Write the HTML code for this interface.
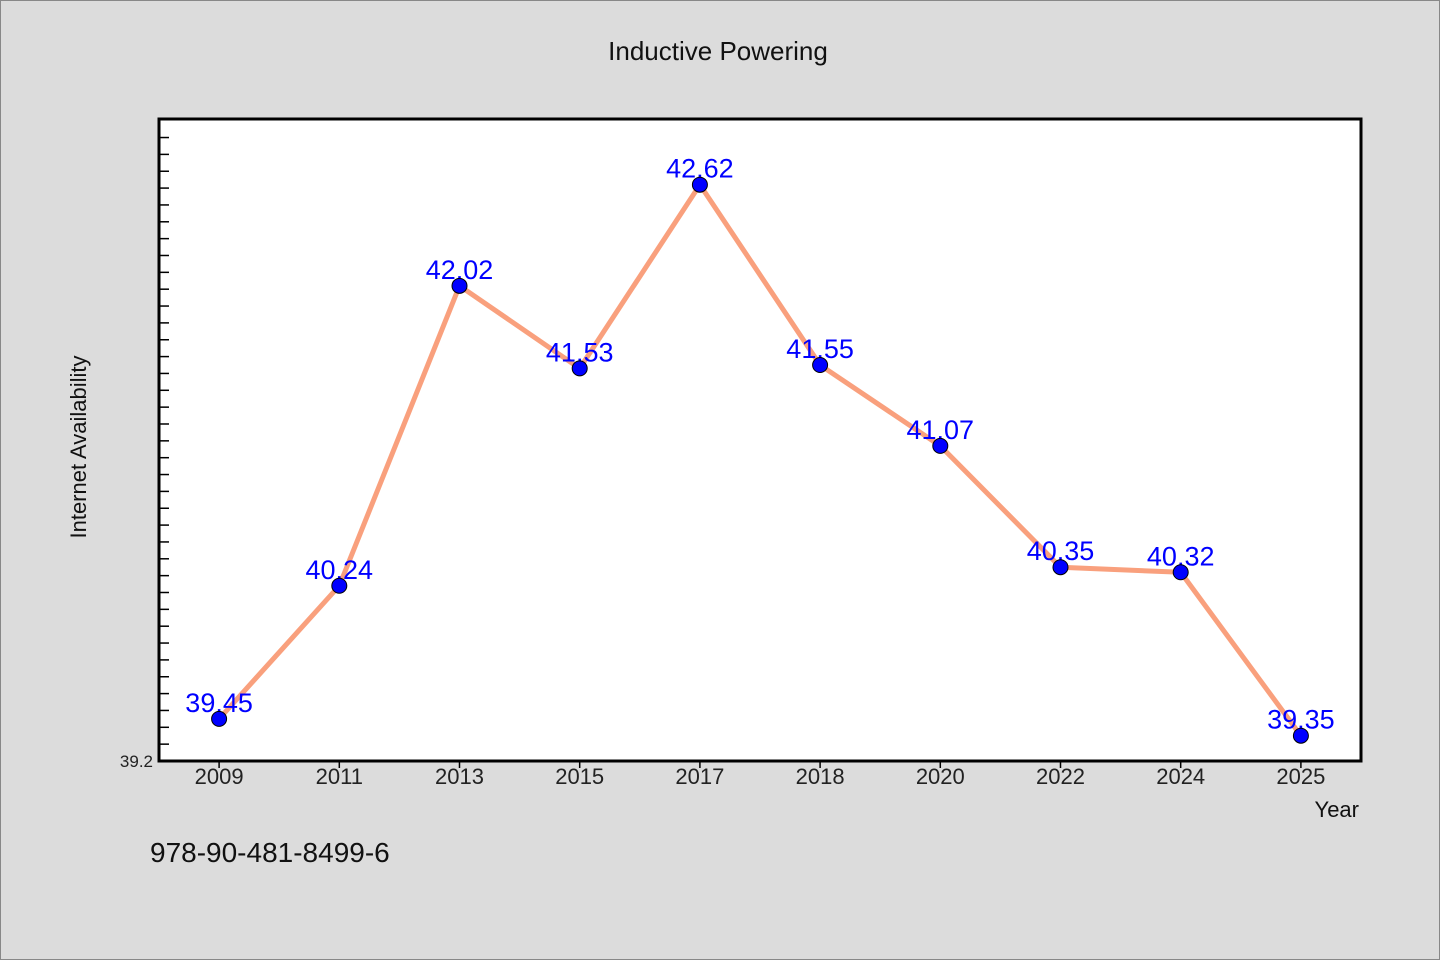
<!DOCTYPE html>
<html><head><meta charset="utf-8"><style>
body{margin:0;background:#dcdcdc;}
svg{display:block;font-family:"WenQuanYi Zen Hei","Liberation Sans",sans-serif;}
</style></head><body>
<svg width="1440" height="960">
<rect x="0.5" y="0.5" width="1439" height="959" fill="#dcdcdc" stroke="#888"/>
<text x="718" y="60" text-anchor="middle" font-size="26" fill="#111">Inductive Powering</text>
<rect x="159" y="119" width="1202" height="642" fill="#fff"/>
<g id="ticks"></g>
<g id="series"></g>
<rect x="159" y="119" width="1202" height="642" fill="none" stroke="#000" stroke-width="3"/>
<text x="86" y="447" transform="rotate(-90 86 447)" text-anchor="middle" font-size="22" fill="#111">Internet Availability</text>
<text x="1359" y="817" text-anchor="end" font-size="22" fill="#111">Year</text>
<text x="150" y="862" font-size="28" fill="#111">978-90-481-8499-6</text>
</svg>
<script>
const categories=["2009","2011","2013","2015","2017","2018","2020","2022","2024","2025"];
const values=[39.45,40.24,42.02,41.53,42.62,41.55,41.07,40.35,40.32,39.35];
const yTickLabels=["39.2"];
const L=159,T=119,W=1202,H=642,yMin=39.2,yMax=43.01;
const NS="http://www.w3.org/2000/svg";
const xs=i=>L+W/categories.length*(i+0.5);
const ys=v=>T+H-(v-yMin)/(yMax-yMin)*H;
function mk(tag,attrs,parent){const e=document.createElementNS(NS,tag);for(const k in attrs)e.setAttribute(k,attrs[k]);parent.appendChild(e);return e;}
const tg=document.getElementById('ticks'),sg=document.getElementById('series');
for(let v=yMin+0.1;v<yMax-0.01;v+=0.1){
 const l=mk('line',{x1:L,x2:L+10,y1:ys(v),y2:ys(v),stroke:'#000','stroke-width':1.5},tg);
 
 
}
yTickLabels.forEach(s=>{
 const t=mk('text',{x:L-6,y:ys(parseFloat(s))+6,'text-anchor':'end','font-size':17,fill:'#222'},tg);t.textContent=s;
 
 
});
categories.forEach((c,i)=>{
 const l=mk('line',{x1:xs(i),x2:xs(i),y1:T+H,y2:T+H+7,stroke:'#000','stroke-width':1.5},tg);
 
 
 const t=mk('text',{x:xs(i),y:T+H+23,'text-anchor':'middle','font-size':22,fill:'#222'},tg);t.textContent=c;
 
 
});
const p=mk('polyline',{points:values.map((v,i)=>xs(i)+','+ys(v)).join(' '),fill:'none',stroke:'#f9a07d','stroke-width':5,'stroke-linejoin':'round'},sg);


values.forEach((v,i)=>{
 const t=mk('text',{x:xs(i),y:ys(v)-7,'text-anchor':'middle','font-size':27,fill:'#0000ff'},sg);t.textContent=v.toFixed(2);
 
 
 const c=mk('circle',{cx:xs(i),cy:ys(v),r:7.5,fill:'#0000ff',stroke:'#000','stroke-width':1},sg);
 
 
});
</script>
</body></html>
